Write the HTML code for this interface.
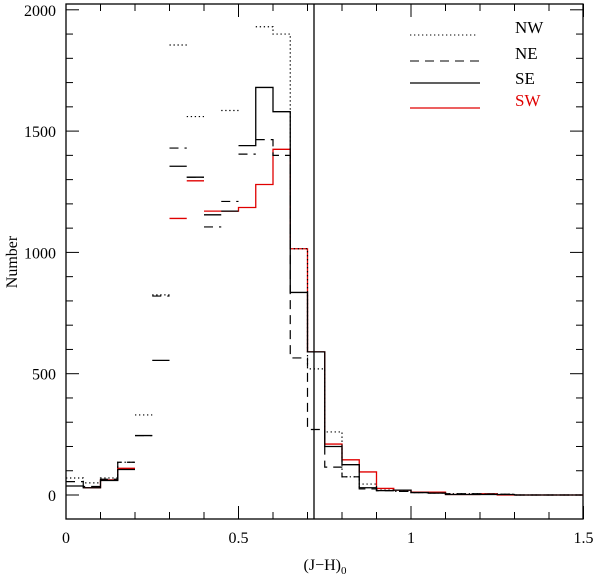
<!DOCTYPE html>
<html><head><meta charset="utf-8"><style>
html,body{margin:0;padding:0;background:#fff;}
svg text{font-family:"Liberation Serif",serif;}
</style></head><body>
<svg id="chart" width="600" height="579" xmlns="http://www.w3.org/2000/svg">
<g id="axes"></g>
<g id="series"></g>
<line x1="314" y1="4" x2="314" y2="519" stroke="#000" stroke-width="1.3"/>
<g>
 <g><line x1="410" y1="35" x2="478" y2="35" stroke="#000" stroke-dasharray="1.3,2.7"/><text x="515" y="33" font-size="17" fill="#000">NW</text></g>
 <g><line x1="410" y1="61" x2="480" y2="61" stroke="#000" stroke-dasharray="9,6"/><text x="515" y="59" font-size="17" fill="#000">NE</text></g>
 <g><line x1="410" y1="83" x2="480" y2="83" stroke="#000" stroke-width="1.3"/><text x="515" y="84" font-size="17" fill="#000">SE</text></g>
 <g><line x1="410" y1="108" x2="480" y2="108" stroke="#e00000" stroke-width="1.3"/><text x="515" y="106" font-size="17" fill="#e00000">SW</text></g>
</g>
<text x="325" y="570" font-size="16" text-anchor="middle">(J−H)<tspan font-size="11" dy="4">0</tspan></text>
<text transform="translate(17,262) rotate(-90)" font-size="16" text-anchor="middle">Number</text>
</svg>
<script>
const binWidth = 0.05;
const binStart = 0;
const seNW = [70,50,70,135,330,825,1855,1560,null,1585,null,1930,1900,1015,520,260,75,45,20,15,10,8,5,5,4,3,0,0,0,0];
const seNE = [55,35,65,135,245,820,1430,1310,1105,1210,1405,1465,1400,565,270,115,75,25,18,15,10,8,5,5,4,3,0,0,0,0];
const seSE = [37,30,60,105,245,555,1355,1310,1155,1170,1440,1680,1580,835,590,200,125,30,18,20,10,8,2,2,2,2,0,0,0,0];
const seSW = [null,30,62,110,null,null,1140,1295,1170,1170,1185,1280,1425,1015,590,210,145,95,27,20,12,12,2,2,5,0,0,0,0,0];
const xTicks = [0,0.5,1,1.5];
const xTickLabels = ["0","0.5","1","1.5"];
const yTicks = [0,500,1000,1500,2000];
const yTickLabels = ["0","500","1000","1500","2000"];

const L=66,R=583,T=4,B=519;
function X(v){return L+v*345;}
function Y(v){return 495-v*(121.3/500);}
const NS="http://www.w3.org/2000/svg";
const axes=document.getElementById('axes');
function mk(tag,attrs,parent){const e=document.createElementNS(NS,tag);for(const k in attrs)e.setAttribute(k,attrs[k]);parent.appendChild(e);return e;}
const frame=mk('rect',{x:L,y:T,width:R-L,height:B-T,fill:'none',stroke:'#000','stroke-width':1.3},axes);


for(let i=0;i<=15;i++){const v=i*0.1,x=X(v),len=(i%5===0)?13:7;
 const t1=mk('line',{x1:x,y1:B,x2:x,y2:B-len,stroke:'#000'},axes);
 
 
 const t2=mk('line',{x1:x,y1:T,x2:x,y2:T+len,stroke:'#000'},axes);
 
 }
for(let v=-100;v<=2000;v+=100){const y=Y(v);if(y>B||y<T)continue;const len=(v%500===0)?13:7;
 const t1=mk('line',{x1:L,y1:y,x2:L+len,y2:y,stroke:'#000'},axes);
 
 
 const t2=mk('line',{x1:R,y1:y,x2:R-len,y2:y,stroke:'#000'},axes);
 
 }
xTicks.forEach((v,i)=>{const t=mk('text',{x:X(v),y:543,'font-size':16,'text-anchor':'middle'},axes);t.textContent=xTickLabels[i];
 
 });
yTicks.forEach((v,i)=>{const t=mk('text',{x:56,y:Y(v)+6,'font-size':16,'text-anchor':'end'},axes);t.textContent=yTickLabels[i];
 
 });

const ser=document.getElementById('series');
function drawHist(vals,name,color,dash,width,loEdge,hiEdge){
 let d='',prev=null;
 vals.forEach((v,i)=>{
  const x0=X(binStart+i*binWidth),x1=X(binStart+(i+1)*binWidth);
  if(v===null){prev=null;return;}
  const conn=(i<=loEdge||i>=hiEdge);
  if(prev===null||!conn)d+=`M${x0},${Y(v)}`;else d+=`L${x0},${Y(prev)}L${x0},${Y(v)}`;
  d+=`L${x1},${Y(v)}`;prev=v;
 });
 const p=mk('path',{d:d,fill:'none',stroke:color,'stroke-width':width},ser);
 if(dash)p.setAttribute('stroke-dasharray',dash);
 
 
}
drawHist(seSW,'series-sw','#e00000',null,1.3,3,10);
drawHist(seSE,'series-se','#000',null,1.3,3,11);
drawHist(seNE,'series-ne','#000','9,6',1.2,3,12);
drawHist(seNW,'series-nw','#000','1.3,2.7',1.2,3,11);
</script>
</body></html>
